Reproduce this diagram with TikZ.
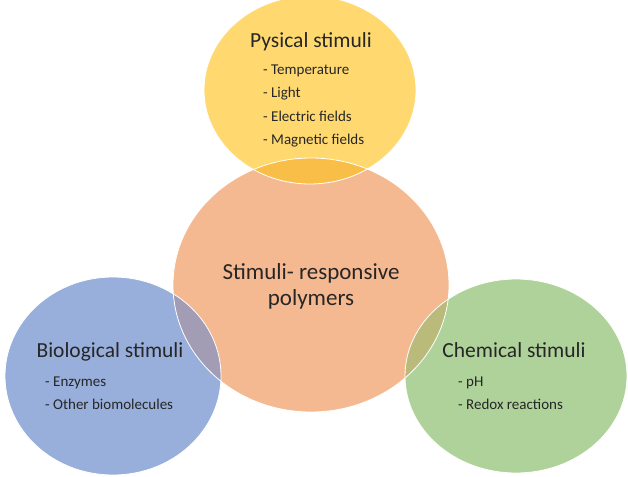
\documentclass[tikz,border=0pt]{standalone}
\usepackage{fontspec}
\setmainfont{Carlito}
\definecolor{yellowfill}{RGB}{255,217,112}
\definecolor{orangefill}{RGB}{245,185,145}
\definecolor{bluefill}{RGB}{152,175,220}
\definecolor{greenfill}{RGB}{175,210,155}
\definecolor{yellowmix}{RGB}{249,190,71}
\definecolor{bluemix}{RGB}{162,156,180}
\definecolor{greenmix}{RGB}{186,186,122}
\definecolor{txt}{RGB}{38,38,38}
\tikzset{
  head/.style={font=\fontsize{21.5}{24}\selectfont, text=txt, anchor=mid, inner sep=0pt},
  core/.style={font=\fontsize{23}{26}\selectfont, text=txt, align=center, inner sep=0pt},
  item/.style={font=\fontsize{15}{18}\selectfont, text=txt, anchor=mid west, inner sep=0pt},
  rim/.style={draw=white, line width=0.8pt}
}
\begin{document}
\begin{tikzpicture}[x=1pt, y=-1pt]
      \useasboundingbox (0,0) rectangle (628,476);
      \coordinate (yc) at (310,90);
      \coordinate (oc) at (311,285);
      \coordinate (bc) at (113,376);
      \coordinate (gc) at (516,376);
      % discs
      \fill[orangefill] (oc) ellipse [x radius=138pt, y radius=127pt];
      \fill[yellowfill] (yc) ellipse [x radius=106pt, y radius=94pt];
      \fill[bluefill] (bc) ellipse [x radius=108pt, y radius=99pt];
      \fill[greenfill] (gc) ellipse [x radius=111pt, y radius=97pt];
      % overlaps
      \begin{scope}
        \clip (oc) ellipse [x radius=138pt, y radius=127pt];
        \fill[yellowmix] (yc) ellipse [x radius=106pt, y radius=94pt];
        \fill[bluemix] (bc) ellipse [x radius=108pt, y radius=99pt];
        \fill[greenmix] (gc) ellipse [x radius=111pt, y radius=97pt];
      \end{scope}
      \draw[rim] (oc) ellipse [x radius=138pt, y radius=127pt];
      \draw[rim] (yc) ellipse [x radius=106pt, y radius=94pt];
      \draw[rim] (bc) ellipse [x radius=108pt, y radius=99pt];
      \draw[rim] (gc) ellipse [x radius=111pt, y radius=97pt];
      % texts
      \node[head] (phys) at (311,45) {Pysical stimuli};
      \node[item] (temp) at (263,72) {- Temperature};
      \node[item] (light) at (263,95) {- Light};
      \node[item] (elec) at (263,119) {- Electric fields};
      \node[item] (magn) at (263,142) {- Magnetic fields};
      \node[core] (srp) at (311,286) {Stimuli- responsive\\polymers};
      \node[head] (bio) at (110,355) {Biological stimuli};
      \node[item] (enz) at (45,384) {- Enzymes};
      \node[item] (mol) at (45,407) {- Other biomolecules};
      \node[head] (chem) at (514,355) {Chemical stimuli};
      \node[item] (ph) at (458,384) {- pH};
      \node[item] (redox) at (458,407) {- Redox reactions};
    \end{tikzpicture}
\end{document}
